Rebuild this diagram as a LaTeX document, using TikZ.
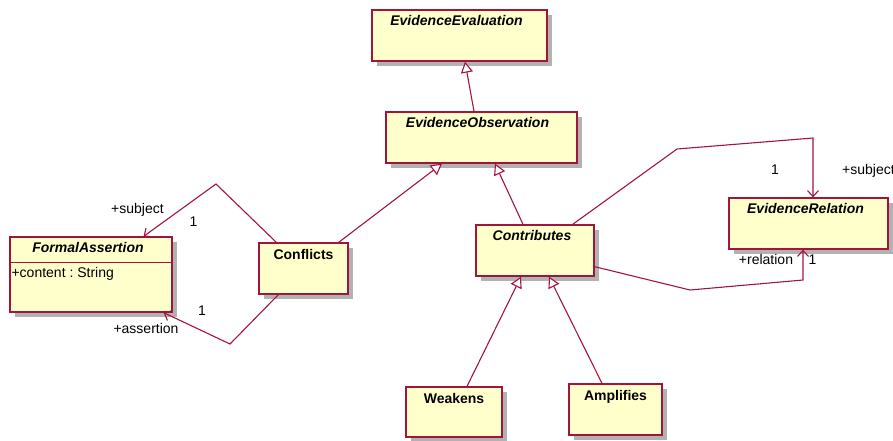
\documentclass[tikz,border=0pt]{standalone}
\usepackage{fontspec}
\setmainfont{Liberation Sans}
\usetikzlibrary{arrows.meta}
\usetikzlibrary{shadows}

\definecolor{umlred}{RGB}{163,20,60}
\definecolor{umlfill}{RGB}{255,255,204}
\frenchspacing

\begin{document}
\begin{tikzpicture}[x=1pt, y=-1pt, font=\fontsize{14}{16}\selectfont]
    \tikzstyle{classbox} = [draw=umlred, fill=umlfill, line width=1.3pt, inner sep=0pt,
        drop shadow={shadow xshift=5pt, shadow yshift=-5pt, fill=black!30, opacity=1}]
    \tikzstyle{classname} = [anchor=base, font=\fontsize{14}{16}\selectfont\bfseries]
    \tikzstyle{abstractname} = [classname, font=\fontsize{14}{16}\selectfont\bfseries\itshape]
    \tikzstyle{inherit} = [draw=umlred, line width=1.1pt, -{Triangle[open, length=11pt, width=12pt, fill=white]}]
    \tikzstyle{assoc} = [draw=umlred, line width=1.1pt, -{Straight Barb[length=6pt, width=11pt]}]
    \tikzstyle{role} = [anchor=base, inner sep=0pt]
    \useasboundingbox (0, 0) rectangle (893, 440);
    % classes
    \node[classbox, minimum width=175, minimum height=51] (eval) at (459.5, 35.5) {};
    \node[classbox, minimum width=191, minimum height=51] (obs) at (481.5, 137.5) {};
    \node[classbox, minimum width=162, minimum height=75] (fa) at (91, 274.5) {};
    \node[classbox, minimum width=89, minimum height=51] (conf) at (303.5, 268.5) {};
    \node[classbox, minimum width=118, minimum height=51] (contr) at (535, 250.5) {};
    \node[classbox, minimum width=159, minimum height=51] (rel) at (808.5, 223.5) {};
    \node[classbox, minimum width=96, minimum height=50] (weak) at (454, 412) {};
    \node[classbox, minimum width=93, minimum height=51] (ampl) at (615.5, 409.5) {};
    \node[abstractname] (evalname) at ([xshift=-3pt, yshift=-16pt]eval.north) {EvidenceEvaluation};
    \node[abstractname] (obsname) at ([xshift=-4pt, yshift=-16pt]obs.north) {EvidenceObservation};
    \node[abstractname] (faname) at ([xshift=-3pt, yshift=-16pt]fa.north) {FormalAssertion};
    \node[classname] (confname) at ([yshift=-17pt]conf.north) {Conflicts};
    \node[abstractname] (contrname) at ([xshift=-3pt, yshift=-16pt]contr.north) {Contributes};
    \node[abstractname] (relname) at ([xshift=-3pt, yshift=-16pt]rel.north) {EvidenceRelation};
    \node[classname] (weakname) at ([yshift=-17pt]weak.north) {Weakens};
    \node[classname] (amplname) at ([yshift=-17pt]ampl.north) {Amplifies};
    \draw[umlred, line width=1.1pt] ([yshift=-26pt]fa.north west) -- ([yshift=-26pt]fa.north east);
    \node[anchor=base west, inner sep=0pt] (faattr) at ([xshift=2pt, yshift=-41pt]fa.north west) {+content : String};
    % generalizations
    \draw[inherit] ([xshift=-7.5pt]obs.north) -- ([xshift=5.5pt]eval.south);
    \draw[inherit] ([xshift=-10pt]conf.north east) -- ([xshift=-39.5pt]obs.south);
    \draw[inherit] ([xshift=-12pt]contr.north) -- ([xshift=13.5pt]obs.south);
    \draw[inherit] ([xshift=13pt]weak.north) -- ([xshift=-14pt]contr.south);
    \draw[inherit] ([xshift=-13.5pt]ampl.north) -- ([xshift=14pt]contr.south);
    % associations
    \coordinate (c1) at (216, 184);
    \coordinate (c2) at (230, 344);
    \coordinate (c3) at (677, 149);
    \coordinate (c4) at (813, 138);
    \coordinate (c5) at (690, 290);
    \coordinate (c6) at (803, 280);
    \draw[assoc] ([xshift=18pt]conf.north west) -- (c1) -- ([xshift=-29pt]fa.north east);
    \draw[assoc] ([xshift=20pt]conf.south west) -- (c2) -- ([xshift=-9pt]fa.south east);
    \draw[assoc] ([xshift=-22pt]contr.north east) -- (c3) -- (c4) -- ([xshift=4.5pt]rel.north);
    \draw[assoc] ([yshift=10pt]contr.south east) -- (c5) -- (c6) -- ([xshift=-5.5pt]rel.south);
    % role names and multiplicities
    \node[role] (r1) at (137.5, 213) {+subject};
    \node[role] (m1) at (193.5, 226) {1};
    \node[role] (m2) at (202, 315) {1};
    \node[role] (r2) at (146, 333) {+assertion};
    \node[role] (m3) at (775, 174) {1};
    \node[role, anchor=base west] (r3) at (842, 174) {+subject};
    \node[role] (r4) at (766, 264) {+relation};
    \node[role] (m4) at (812.5, 264) {1};
\end{tikzpicture}
\end{document}
